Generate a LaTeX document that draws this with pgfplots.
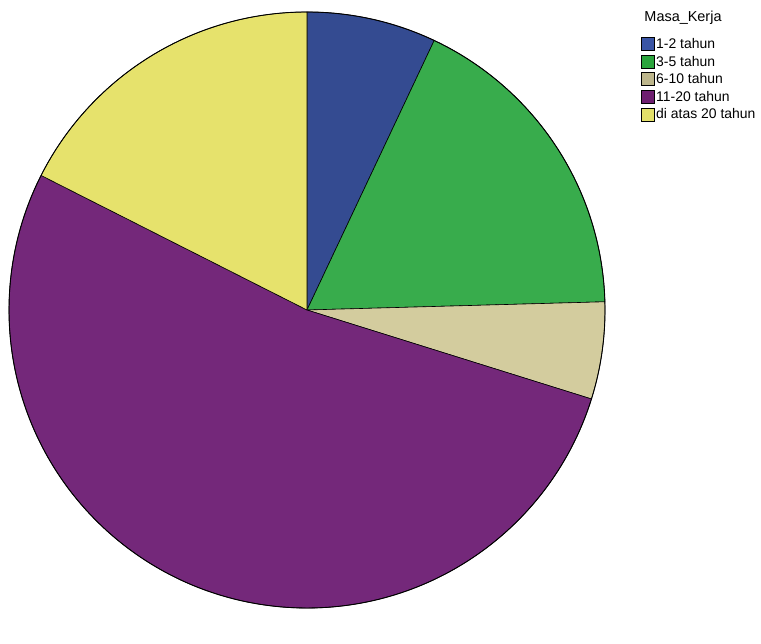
\documentclass[border=0pt]{standalone}
\usepackage{pgfplots}
\pgfplotsset{compat=1.18}
\usepackage{fontspec}
\setmainfont{Liberation Sans}
\definecolor{c1}{HTML}{344B91}
\definecolor{c2}{HTML}{38AC4C}
\definecolor{c3}{HTML}{D3CC9E}
\definecolor{c4}{HTML}{74287A}
\definecolor{c5}{HTML}{E6E26C}
\definecolor{l1}{HTML}{3A55A5}
\definecolor{l2}{HTML}{2AA43C}
\definecolor{l3}{HTML}{BDB68C}
\definecolor{l4}{HTML}{6E1F70}
\definecolor{l5}{HTML}{E3E06A}
% counts per category
\def\nA{4}\def\nB{10}\def\nC{3}\def\nD{30}\def\nE{10}
\pgfmathsetmacro\tot{\nA+\nB+\nC+\nD+\nE}
\pgfmathsetmacro\aA{90}
\pgfmathsetmacro\aB{\aA-360*\nA/\tot}
\pgfmathsetmacro\aC{\aB-360*\nB/\tot}
\pgfmathsetmacro\aD{\aC-360*\nC/\tot}
\pgfmathsetmacro\aE{\aD-360*\nD/\tot}
\pgfmathsetmacro\aF{\aE-360*\nE/\tot}
\begin{document}
\begin{tikzpicture}
\begin{axis}[scale only axis, width=761bp, height=610bp,
  xmin=0, xmax=761, ymin=0, ymax=610, hide axis, clip=false,
  legend style={at={(axis cs:638,575)}, anchor=north west, draw=none, fill=none,
    font=\fontsize{14}{15.5}\selectfont, row sep=3.6bp,
    nodes={inner sep=1.2bp}},
  legend cell align=left,
  legend image code/.code={\draw[#1, draw=black, line width=0.8pt] (0bp,-6.5bp) rectangle (13bp,6.5bp);},
]
\path (axis cs:0,0) rectangle (axis cs:761,610);
\def\R{298bp}
\filldraw[fill=c1, draw=black, line width=0.6pt] (axis cs:307,300) -- ++(\aA:\R) arc[start angle=\aA, end angle=\aB, radius=\R] -- cycle;
\filldraw[fill=c2, draw=black, line width=0.6pt] (axis cs:307,300) -- ++(\aB:\R) arc[start angle=\aB, end angle=\aC, radius=\R] -- cycle;
\filldraw[fill=c3, draw=black, line width=0.6pt] (axis cs:307,300) -- ++(\aC:\R) arc[start angle=\aC, end angle=\aD, radius=\R] -- cycle;
\filldraw[fill=c4, draw=black, line width=0.6pt] (axis cs:307,300) -- ++(\aD:\R) arc[start angle=\aD, end angle=\aE, radius=\R] -- cycle;
\filldraw[fill=c5, draw=black, line width=0.6pt] (axis cs:307,300) -- ++(\aE:\R) arc[start angle=\aE, end angle=\aF, radius=\R] -- cycle;
\draw[black, line width=0.9pt] (axis cs:307,300) circle[radius=\R];
\addlegendimage{fill=l1}\addlegendentry{1-2 tahun}
\addlegendimage{fill=l2}\addlegendentry{3-5 tahun}
\addlegendimage{fill=l3}\addlegendentry{6-10 tahun}
\addlegendimage{fill=l4}\addlegendentry{11-20 tahun}
\addlegendimage{fill=l5}\addlegendentry{di atas 20 tahun}
\node[anchor=center, font=\fontsize{14.5}{16}\selectfont, inner sep=0pt] at (axis cs:683,592) {Masa\_Kerja};
\end{axis}
\end{tikzpicture}
\end{document}
